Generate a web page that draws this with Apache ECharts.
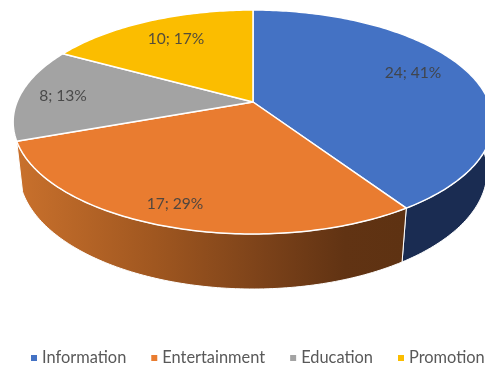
<!DOCTYPE html>
<html>
<head>
<meta charset="utf-8">
<style>html,body{margin:0;padding:0;background:#fff;overflow:hidden}#chart{width:485px;height:365px}</style>
<script src="https://cdn.jsdelivr.net/npm/echarts@6/dist/echarts.min.js"></script>
</head>
<body>
<div id="chart"></div>
<script>
const categories = ['Information', 'Entertainment', 'Education', 'Promotion'];
const counts = [24, 17, 8, 10];
const percentLabels = [41, 29, 13, 17];
const topColors = ['#4472C4', '#E97C30', '#A3A3A3', '#FBBD00'];

// Perspective disc: unit circle on the table top, then projected to the page.
const disc = { cx: 253, cy: 102, a: 236, b: 108.4, k: 0.1786, depth: 49.7, sink: 0.024 };
const labelAnchors = [[413, 73], [175, 204], [63, 96], [176, 39]];

const total = counts.reduce((s, v) => s + v, 0);

function rimPoint(theta, lower) {
  const X = Math.sin(theta), Y = -Math.cos(theta);
  const w = 1 - disc.k * Y + (lower ? disc.sink : 0);
  return [
    disc.cx + disc.a * X / w,
    disc.cy + (disc.b * Y + (lower ? disc.depth : 0)) / w
  ];
}

function arc(from, to, lower) {
  const steps = Math.max(2, Math.ceil((to - from) * 60));
  const pts = [];
  for (let i = 0; i <= steps; i++) pts.push(rimPoint(from + (to - from) * i / steps, lower));
  return pts;
}

const sideFills = [
  '#1A2C52',
  new echarts.graphic.LinearGradient(20, 0, 402, 0, [
    { offset: 0, color: '#C8702C' },
    { offset: 0.35, color: '#A05720' },
    { offset: 0.65, color: '#7A4119' },
    { offset: 0.85, color: '#613313' },
    { offset: 1, color: '#5E3212' }
  ], true),
  null,
  null
];

function sliceRenderer(index) {
  return function (params, api) {
    const value = api.value(0);
    let before = 0;
    for (let i = 0; i < index; i++) before += counts[i];
    const start = before / total * Math.PI * 2;
    const end = (before + value) / total * Math.PI * 2;
    const children = [];
    if (sideFills[index]) {
      // Only the rim facing the viewer gets a wall.
      const wallFrom = Math.max(start, Math.PI / 3);
      const upper = arc(wallFrom, end, false);
      const lower = arc(wallFrom, end, true).reverse();
      children.push({
        type: 'polygon',
        shape: { points: upper.concat(lower) },
        style: { fill: sideFills[index], stroke: '#fff', lineWidth: 1, lineJoin: 'round' }
      });
    }
    children.push({
      type: 'polygon',
      shape: { points: [[disc.cx, disc.cy]].concat(arc(start, end, false)) },
      style: { fill: topColors[index], stroke: '#fff', lineWidth: 1.5, lineJoin: 'round' }
    });
    children.push({
      type: 'text',
      style: {
        x: labelAnchors[index][0],
        y: labelAnchors[index][1],
        text: value + '; ' + percentLabels[index] + '%',
        fill: '#404040',
        opacity: 0.9,
        font: '15.6px Lato, "Open Sans", sans-serif',
        align: 'center',
        verticalAlign: 'middle'
      }
    });
    return { type: 'group', children };
  };
}

const chart = echarts.init(document.getElementById('chart'), null, { renderer: 'canvas' });
chart.setOption({
  animation: false,
  backgroundColor: '#fff',
  legend: {
    left: 26,
    top: 345,
    width: 700,
    icon: 'rect',
    itemWidth: 6,
    itemHeight: 6,
    itemGap: 25,
    selectedMode: false,
    data: categories,
    textStyle: { color: '#595959', fontSize: 16.4, fontFamily: 'Lato, "Open Sans", sans-serif' }
  },
  series: categories.map((name, i) => ({
    type: 'custom',
    name,
    coordinateSystem: 'none',
    silent: true,
    itemStyle: { color: topColors[i] },
    data: [[counts[i]]],
    renderItem: sliceRenderer(i)
  }))
});
</script>
</body>
</html>
